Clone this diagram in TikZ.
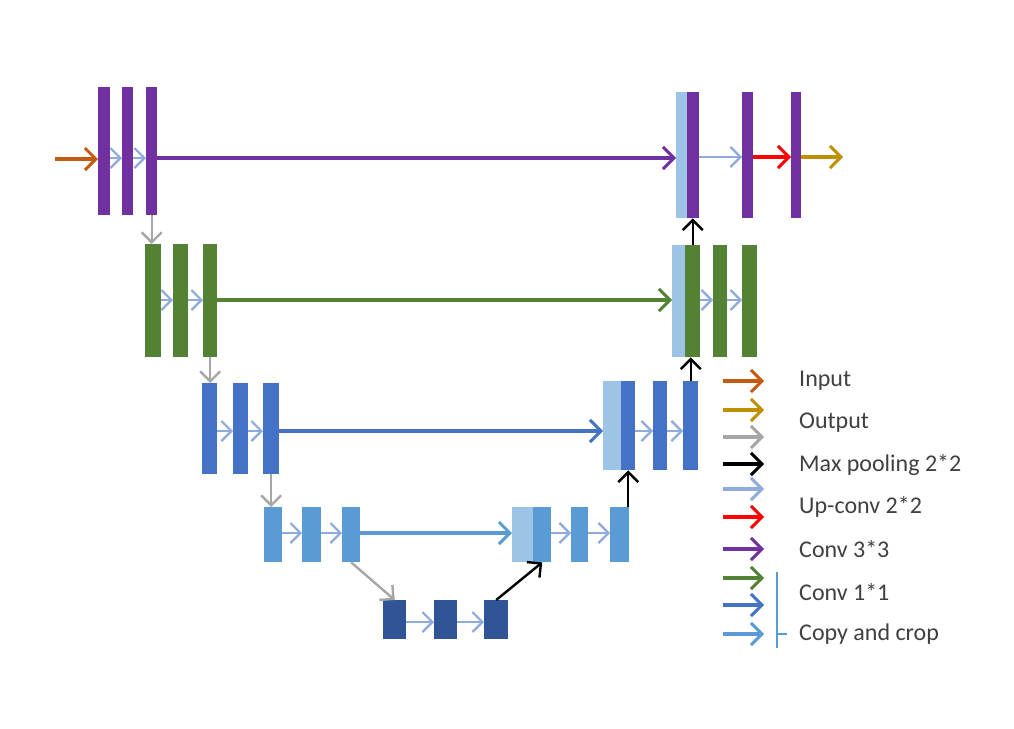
\documentclass[tikz,border=0pt]{standalone}
\usepackage{fontspec}
\setmainfont{Carlito}
\usetikzlibrary{arrows.meta}
\definecolor{cpurple}{HTML}{7030A0}
\definecolor{cgreen}{HTML}{548235}
\definecolor{cblue}{HTML}{4472C4}
\definecolor{clblue}{HTML}{5B9BD5}
\definecolor{cdblue}{HTML}{2F5597}
\definecolor{ccopy}{HTML}{9DC3E6}
\definecolor{corange}{HTML}{C55A11}
\definecolor{cgold}{HTML}{BF9000}
\definecolor{cgray}{HTML}{A6A6A6}
\definecolor{carrow}{HTML}{8FAADC}
\definecolor{ctext}{HTML}{404040}
\tikzset{
  tip/.style={-{Straight Barb[length=11pt,width=22pt,line width=3pt]}},
  bar/.style={draw=none, inner sep=0pt, anchor=north west, rectangle},
  bigarr/.style={tip, line width=3.2pt},
  thinarr/.style={-{Straight Barb[length=10pt,width=20pt,line width=2.4pt]}, line width=2.4pt},
  inarr/.style={-{Straight Barb[length=10pt,width=20pt,line width=2.2pt]}, line width=2.2pt, carrow},
  legtext/.style={anchor=west, text=ctext, font=\fontsize{24}{28}\selectfont, inner sep=0pt},
}
\begin{document}
\begin{tikzpicture}[x=1pt,y=-1pt]
\useasboundingbox[fill=white] (0,0) rectangle (1014,728);
% arrow rows
\coordinate (y1) at (0,158);
\coordinate (y1r) at (0,157);
\coordinate (y2) at (0,300);
\coordinate (y3) at (0,431);
\coordinate (y4) at (0,533);
\coordinate (y5) at (0,622);
% level 1
\node[bar, fill=cpurple, minimum width=12pt, minimum height=128pt] (a1) at (98,87) {};
\node[bar, fill=cpurple, minimum width=11pt, minimum height=128pt] (a2) at (122,87) {};
\node[bar, fill=cpurple, minimum width=11pt, minimum height=128pt] (a3) at (146,87) {};
\node[bar, fill=ccopy, minimum width=11pt, minimum height=126pt] (r1c) at (676,92) {};
\node[bar, fill=cpurple, minimum width=12pt, minimum height=126pt] (r1) at (687,92) {};
\node[bar, fill=cpurple, minimum width=11pt, minimum height=126pt] (r1b) at (742,92) {};
\node[bar, fill=cpurple, minimum width=10pt, minimum height=126pt] (r1d) at (791,92) {};
% level 2
\node[bar, fill=cgreen, minimum width=16pt, minimum height=113pt] (b1) at (145,244) {};
\node[bar, fill=cgreen, minimum width=15pt, minimum height=113pt] (b2) at (173,244) {};
\node[bar, fill=cgreen, minimum width=14pt, minimum height=113pt] (b3) at (203,244) {};
\node[bar, fill=ccopy, minimum width=13pt, minimum height=112pt] (b4c) at (672,245) {};
\node[bar, fill=cgreen, minimum width=15pt, minimum height=112pt] (b4) at (685,245) {};
\node[bar, fill=cgreen, minimum width=14pt, minimum height=112pt] (b5) at (713,245) {};
\node[bar, fill=cgreen, minimum width=15pt, minimum height=112pt] (b6) at (742,245) {};
% level 3
\node[bar, fill=cblue, minimum width=15pt, minimum height=91pt] (c1) at (202,383) {};
\node[bar, fill=cblue, minimum width=15pt, minimum height=91pt] (c2) at (233,383) {};
\node[bar, fill=cblue, minimum width=16pt, minimum height=91pt] (c3) at (263,383) {};
\node[bar, fill=ccopy, minimum width=18pt, minimum height=89pt] (c4c) at (603,381) {};
\node[bar, fill=cblue, minimum width=14pt, minimum height=89pt] (c4) at (621,381) {};
\node[bar, fill=cblue, minimum width=14pt, minimum height=89pt] (c5) at (653,381) {};
\node[bar, fill=cblue, minimum width=15pt, minimum height=89pt] (c6) at (683,381) {};
% level 4
\node[bar, fill=clblue, minimum width=18pt, minimum height=55pt] (d1) at (264,507) {};
\node[bar, fill=clblue, minimum width=19pt, minimum height=55pt] (d2) at (302,507) {};
\node[bar, fill=clblue, minimum width=18pt, minimum height=55pt] (d3) at (342,507) {};
\node[bar, fill=ccopy, minimum width=21pt, minimum height=55pt] (d4c) at (512,507) {};
\node[bar, fill=clblue, minimum width=18pt, minimum height=55pt] (d4) at (533,507) {};
\node[bar, fill=clblue, minimum width=17pt, minimum height=55pt] (d5) at (571,507) {};
\node[bar, fill=clblue, minimum width=19pt, minimum height=55pt] (d6) at (610,507) {};
% level 5
\node[bar, fill=cdblue, minimum width=23pt, minimum height=39pt] (e1) at (383,600) {};
\node[bar, fill=cdblue, minimum width=23pt, minimum height=39pt] (e2) at (434,600) {};
\node[bar, fill=cdblue, minimum width=24pt, minimum height=39pt] (e3) at (484,600) {};
% input/output
\coordinate (in) at (55,159);
\coordinate (out) at (843,157);
\draw[bigarr, corange] (in) -- (a1.west |- in);
\draw[bigarr, cgold] (r1d.east |- out) -- (out);
% inner arrows
\draw[inarr] (a1.east |- y1) -- (a2.west |- y1);
\draw[inarr] (a2.east |- y1) -- (a3.west |- y1);
\draw[inarr] (r1.east |- y1r) -- (r1b.west |- y1r);
\draw[bigarr, red] (r1b.east |- y1r) -- (r1d.west |- y1r);
\draw[inarr] (b1.east |- y2) -- (b2.west |- y2);
\draw[inarr] (b2.east |- y2) -- (b3.west |- y2);
\draw[inarr] (b4.east |- y2) -- (b5.west |- y2);
\draw[inarr] (b5.east |- y2) -- (b6.west |- y2);
\draw[inarr] (c1.east |- y3) -- (c2.west |- y3);
\draw[inarr] (c2.east |- y3) -- (c3.west |- y3);
\draw[inarr] (c4.east |- y3) -- (c5.west |- y3);
\draw[inarr] (c5.east |- y3) -- (c6.west |- y3);
\draw[inarr] (d1.east |- y4) -- (d2.west |- y4);
\draw[inarr] (d2.east |- y4) -- (d3.west |- y4);
\draw[inarr] (d4.east |- y4) -- (d5.west |- y4);
\draw[inarr] (d5.east |- y4) -- (d6.west |- y4);
\draw[inarr] (e1.east |- y5) -- (e2.west |- y5);
\draw[inarr] (e2.east |- y5) -- (e3.west |- y5);
% skip connections
\draw[bigarr, cpurple] (a3.east |- y1) -- (r1c.west |- y1);
\draw[bigarr, cgreen] (b3.east |- y2) -- (b4c.west |- y2);
\draw[bigarr, cblue] (c3.east |- y3) -- (c4c.west |- y3);
\draw[bigarr, clblue] (d3.east |- y4) -- (d4c.west |- y4);
% down (gray)
\draw[thinarr, cgray] (a3.south) -- (a3.south |- b1.north);
\draw[thinarr, cgray] (b3.south) -- (b3.south |- c1.north);
\draw[thinarr, cgray] (c3.south) -- (c3.south |- d1.north);
\draw[thinarr, cgray] (d3.south) -- (e1.north);
% up (black)
\draw[thinarr, black] (e3.north) -- (d4.south);
\draw[thinarr, black] (c4.south |- d6.north) -- (c4.south);
\draw[thinarr, black] (c6.north) -- (c6.north |- b4.south);
\draw[thinarr, black] (b4.north) -- (b4.north |- r1.south);
% legend
\foreach \yy/\cc [count=\i] in {381/corange, 410/cgold, 437/cgray, 464/black, 489/carrow, 517/red, 549/cpurple, 578/cgreen, 605/cblue, 634/clblue}{
  \coordinate (ls\i) at (723,\yy);
  \coordinate (le\i) at (764,\yy);
  \draw[bigarr, \cc] (ls\i) -- (le\i);
}
\node[legtext] (t1) at (799,381) {Input};
\node[legtext] (t2) at (799,423) {Output};
\node[legtext] (t3) at (799,465) {Max pooling 2*2};
\node[legtext] (t4) at (799,507) {Up-conv 2*2};
\node[legtext] (t5) at (799,549) {Conv 3*3};
\node[legtext] (t6) at (799,592) {Conv 1*1};
\node[legtext] (t7) at (799,634) {Copy and crop};
\coordinate (bt) at (777,572);
\coordinate (bb) at (777,648);
\coordinate (bk) at (777,634);
\coordinate (bk2) at (787,634);
\draw[clblue, line width=1.6pt] (bt) -- (bb);
\draw[clblue, line width=1.6pt] (bk) -- (bk2);
\end{tikzpicture}
\end{document}
